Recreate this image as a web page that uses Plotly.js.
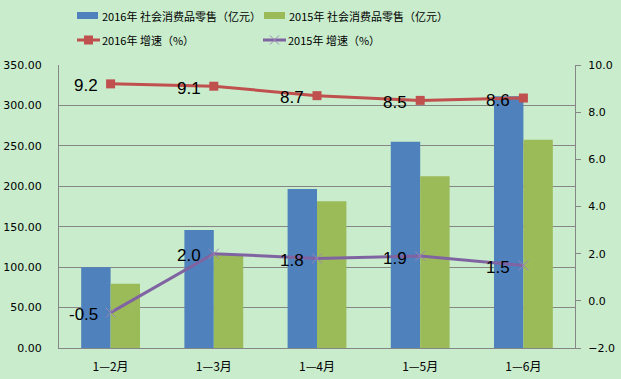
<!DOCTYPE html>
<html><head><meta charset="utf-8">
<script src="https://cdn.plot.ly/plotly-3.0.1.min.js"></script>
<style>html,body{margin:0;padding:0;background:#C8ECCC;}#chart{width:621px;height:379px;}</style>
</head><body><div id="chart"></div>
<script>
const categories = ['1—2月', '1—3月', '1—4月', '1—5月', '1—6月'];
const sales2016 = [100, 146, 196.5, 255, 311.5];
const sales2015 = [79.5, 115, 181.5, 212.5, 257.5];
const growth2016 = [9.2, 9.1, 8.7, 8.5, 8.6];
const growth2015 = [-0.5, 2.0, 1.8, 1.9, 1.5];
const seriesNames = ['2016年 社会消费品零售（亿元）', '2015年 社会消费品零售（亿元）', '2016年 增速（%）', '2015年 增速（%）'];
const colors = ['#4F81BD', '#9BBB59', '#C0504D', '#8064A2'];

const W = 621, H = 379;
const M = {l: 59, r: 46, t: 65, b: 31};
const PW = W - M.l - M.r, PH = H - M.t - M.b;
const px = x => (x - M.l) / PW;          // pixel -> paper x
const py = y => (H - M.b - y) / PH;      // pixel -> paper y

const cjk = '"Noto Sans CJK SC", sans-serif';
const tickFont = {family: 'Tahoma, "DejaVu Sans", sans-serif', size: 11, color: '#000'};
const labelFont = {family: '"Liberation Sans", Arial, sans-serif', size: 17, color: '#000'};

const traces = [
  {type: 'bar', x: categories, y: sales2016, name: seriesNames[0], marker: {color: colors[0]}},
  {type: 'bar', x: categories, y: sales2015, name: seriesNames[1], marker: {color: colors[1]}},
  {type: 'scatter', mode: 'lines+markers', x: categories, y: growth2016, yaxis: 'y2', name: seriesNames[2],
   line: {color: colors[2], width: 3}, marker: {symbol: 'square', size: 9, color: colors[2]}, cliponaxis: false},
  {type: 'scatter', mode: 'lines+markers', x: categories, y: growth2015, yaxis: 'y2', name: seriesNames[3],
   line: {color: colors[3], width: 3}, marker: {symbol: 'x-thin', size: 10, color: '#9A86B8', line: {color: '#9A86B8', width: 1}}, cliponaxis: false}
];

// data labels (left of each marker)
const annotations = [];
[growth2016, growth2015].forEach(vals => {
  vals.forEach((v, i) => annotations.push({
    x: categories[i], y: v, xref: 'x', yref: 'y2', text: v.toFixed(1), showarrow: false,
    xanchor: 'right', yanchor: 'middle', xshift: -11, yshift: -2, font: labelFont
  }));
});

// custom legend
const shapes = [];
const legendItems = [
  {kind: 'bar', c: colors[0], x: 77, y: 16, name: seriesNames[0]},
  {kind: 'bar', c: colors[1], x: 264, y: 16, name: seriesNames[1]},
  {kind: 'line', c: colors[2], x: 77, y: 40, name: seriesNames[2], sym: 'square'},
  {kind: 'line', c: colors[3], x: 263, y: 40, name: seriesNames[3], sym: 'x'}
];
legendItems.forEach(it => {
  if (it.kind === 'bar') {
    shapes.push({type: 'rect', xref: 'paper', yref: 'paper', x0: px(it.x), x1: px(it.x + 21), y0: py(it.y - 4), y1: py(it.y + 3),
                 fillcolor: it.c, line: {width: 0}});
  } else {
    shapes.push({type: 'line', xref: 'paper', yref: 'paper', x0: px(it.x), x1: px(it.x + 23), y0: py(it.y), y1: py(it.y),
                 line: {color: it.c, width: 3}});
    const cx = it.x + 11.5;
    if (it.sym === 'square') {
      shapes.push({type: 'rect', xref: 'paper', yref: 'paper', x0: px(cx - 4.5), x1: px(cx + 4.5), y0: py(it.y - 4.5), y1: py(it.y + 4.5),
                   fillcolor: it.c, line: {width: 0}});
    } else {
      shapes.push({type: 'line', xref: 'paper', yref: 'paper', x0: px(cx - 4.5), x1: px(cx + 4.5), y0: py(it.y - 4.5), y1: py(it.y + 4.5),
                   line: {color: '#9A86B8', width: 1}});
      shapes.push({type: 'line', xref: 'paper', yref: 'paper', x0: px(cx - 4.5), x1: px(cx + 4.5), y0: py(it.y + 4.5), y1: py(it.y - 4.5),
                   line: {color: '#9A86B8', width: 1}});
    }
  }
  annotations.push({xref: 'paper', yref: 'paper', x: px(it.x + 23), y: py(it.y), text: it.name, showarrow: false,
                    xanchor: 'left', yanchor: 'middle', font: {family: cjk, size: 11, color: '#000'}});
});

const layout = {
  width: W, height: H,
  paper_bgcolor: '#C8ECCC', plot_bgcolor: '#C8ECCC',
  margin: {l: M.l, r: M.r, t: M.t, b: M.b, autoexpand: false},
  font: {family: cjk, size: 11, color: '#000'},
  barmode: 'group', bargap: 0.43, bargroupgap: 0,
  showlegend: false,
  xaxis: {showline: true, linecolor: '#868686', linewidth: 1, ticks: '', tickfont: {size: 12, family: cjk}, ticklabelstandoff: 8},
  yaxis: {range: [0, 350], dtick: 50, tickformat: '.2f', showgrid: true, gridcolor: '#868686', gridwidth: 1,
          showline: true, linecolor: '#868686', linewidth: 1, ticks: '', ticklabelstandoff: 14, zeroline: false,
          tickfont: tickFont},
  yaxis2: {range: [-2, 10], dtick: 2, tickformat: '.1f', overlaying: 'y', side: 'right', showgrid: false, zeroline: false,
           showline: true, linecolor: '#868686', linewidth: 1, ticks: 'outside', ticklen: 5, tickcolor: '#868686',
           ticklabelstandoff: 5, tickfont: tickFont},
  shapes: shapes,
  annotations: annotations,
  hovermode: false
};

Plotly.newPlot('chart', traces, layout, {displayModeBar: false, staticPlot: true});
</script></body></html>
